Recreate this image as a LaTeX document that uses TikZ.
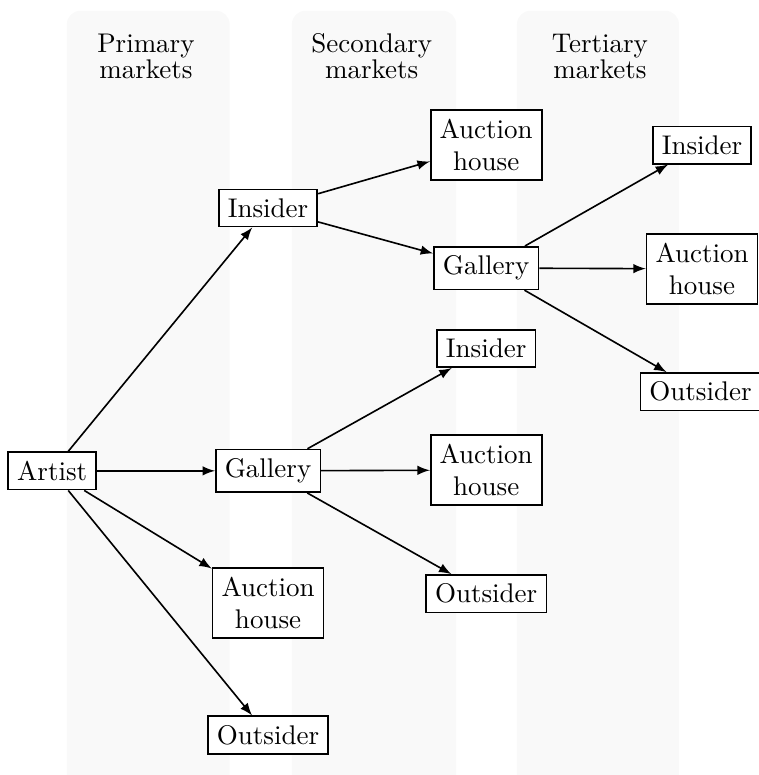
\documentclass[tikz,border=0pt]{standalone}
\usepackage{tikz}
\definecolor{colbg}{gray}{0.975}
\begin{document}
\begin{tikzpicture}[>=latex, semithick,
    box/.style={draw, fill=white, align=center},
    col/.style={fill=colbg, draw=none, rounded corners=5pt},
    head/.style={align=center, font=\linespread{0.8}\selectfont}]
   \useasboundingbox (0,0) rectangle (9.88,-10.09);
   % market columns
   \fill[col] (0.87,-0.14) rectangle (2.99,-10.4);
   \fill[col] (3.80,-0.14) rectangle (5.94,-10.4);
   \fill[col] (6.73,-0.14) rectangle (8.84,-10.4);
   \node[head] (prim) at (1.90,-0.73) {Primary\\markets};
   \node[head] (sec)  at (4.84,-0.73) {Secondary\\markets};
   \node[head] (ter)  at (7.81,-0.73) {Tertiary\\markets};
   % nodes
   \node[box] (artist) at (0.68,-6.13) {Artist};
   \node[box] (ins)    at (3.49,-2.71) {Insider};
   \node[box] (gal)    at (3.49,-6.13) {Gallery};
   \node[box] (auc)    at (3.49,-7.85) {Auction\\house};
   \node[box] (out)    at (3.49,-9.57) {Outsider};
   \node[box] (insauc) at (6.33,-1.89) {Auction\\house};
   \node[box] (insgal) at (6.33,-3.49) {Gallery};
   \node[box] (galins) at (6.33,-4.54) {Insider};
   \node[box] (galauc) at (6.33,-6.12) {Auction\\house};
   \node[box] (galout) at (6.33,-7.73) {Outsider};
   \node[box] (terins) at (9.14,-1.89) {Insider};
   \node[box] (terauc) at (9.14,-3.50) {Auction\\house};
   \node[box] (terout) at (9.12,-5.10) {Outsider};
   % edges
   \foreach \t in {ins,gal,auc,out} \draw[->] (artist) -- (\t);
   \foreach \t in {insauc,insgal} \draw[->] (ins) -- (\t);
   \foreach \t in {galins,galauc,galout} \draw[->] (gal) -- (\t);
   \foreach \t in {terins,terauc,terout} \draw[->] (insgal) -- (\t);
\end{tikzpicture}
\end{document}
